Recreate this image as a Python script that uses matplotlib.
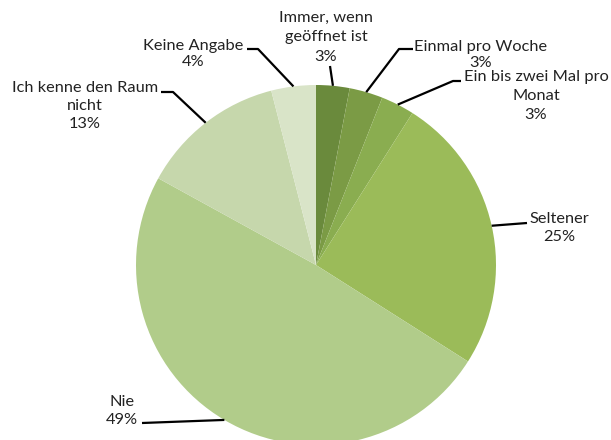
import numpy as np
import matplotlib.pyplot as plt

# survey answers, clockwise from 12 o'clock
labels = [
    "Immer, wenn\ngeöffnet ist",
    "Einmal pro Woche",
    "Ein bis zwei Mal pro\nMonat",
    "Seltener",
    "Nie",
    "Ich kenne den Raum\nnicht",
    "Keine Angabe",
]
shares = [3, 3, 3, 25, 49, 13, 4]
colors = ["#6a8a3c", "#7b9b45", "#8aad50", "#9bbb59", "#b1cc8a", "#c6d7ac", "#d9e4c8"]

# label text centre (px, top-left origin), leader elbow and leader end
label_pos = [(326, 37), (481, 55), (536, 96), (559, 228), (122, 411), (85, 106), (193, 54)]
line_space = [1.5, 1.1, 1.45, 1.35, 1.35, 1.4, 1.25]
elbows = [(330, 66), (399, 49), (453, 81), (527, 223), (142, 423), (173, 92), (258, 49)]
line_ends = [(330, 66), (413, 49), (461, 81), (527, 223), (142, 423), (161, 92), (247, 49)]

W, H = 611, 440
CX, CY, R = 316, 265, 180

fig = plt.figure(figsize=(W / 100, H / 100), dpi=100)
ax = fig.add_axes([0, 0, 1, 1])

wedges, _ = ax.pie(
    shares,
    colors=colors,
    startangle=90,
    counterclock=False,
    center=(CX, H - CY),
    radius=R,
    frame=True,
)
ax.set_xlim(0, W)
ax.set_ylim(0, H)
ax.set_aspect("equal")
ax.axis("off")

for w, lab, val, pos, ls, elb, end in zip(wedges, labels, shares, label_pos,
                                          line_space, elbows, line_ends):
    ang = np.deg2rad((w.theta1 + w.theta2) / 2)
    ex = CX + R * np.cos(ang)
    ey = H - CY + R * np.sin(ang)
    ax.plot([ex, elb[0], end[0]], [ey, H - elb[1], H - end[1]],
            color="black", lw=1.6, solid_capstyle="butt")
    ax.text(pos[0], H - pos[1], f"{lab}\n{val}%", ha="center", va="center",
            fontsize=11.8, family="Lato", color="#222222", linespacing=ls)

fig.savefig("out.png", dpi=100)
